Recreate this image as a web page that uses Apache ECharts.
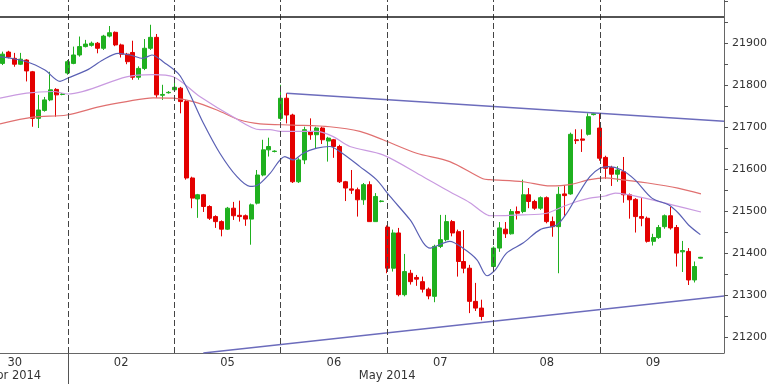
<!DOCTYPE html>
<html><head><meta charset="utf-8">
<script src="https://cdn.jsdelivr.net/npm/echarts@6/dist/echarts.min.js"></script>
<style>html,body{margin:0;padding:0;background:#fff}#c{width:768px;height:384px}</style>
</head><body><div id="c"></div>
<script>
// candle slot index (one per hourly bar), [open, close, low, high]
const candles = [
 // Apr 30 (partial)
 [21852,21874,21848,21880],[21879,21867,21864,21882],[21864,21850,21844,21877],[21850,21862,21848,21877],
 [21860,21834,21809,21862],[21832,21721,21701,21834],[21721,21741,21698,21777],[21740,21765,21737,21772],
 [21765,21789,21762,21832],[21790,21777,21725,21793],[21778,21779,21776,21781],
 // May 02
 [21829,21856,21825,21860],[21852,21872,21850,21892],[21872,21892,21868,21916],[21892,21898,21890,21908],
 [21895,21900,21892,21904],[21900,21888,21876,21903],[21888,21917,21884,21920],[21917,21925,21914,21941],
 [21926,21896,21893,21928],[21896,21874,21866,21899],[21874,21856,21850,21877],[21878,21819,21813,21906],
 [21819,21840,21813,21845],[21840,21888,21836,21910],[21888,21914,21884,21944],[21914,21777,21770,21922],
 [21776,21778,21765,21801],[21782,21783,21780,21786],
 // May 05
 [21789,21795,21785,21817],[21793,21761,21733,21796],[21761,21579,21575,21765],[21579,21531,21507,21582],
 [21529,21539,21484,21541],[21539,21511,21498,21541],[21511,21483,21479,21514],[21487,21475,21460,21490],
 [21475,21457,21440,21478],[21457,21507,21455,21510],[21507,21489,21479,21522],[21490,21487,21475,21525],
 [21489,21481,21465,21492],[21481,21515,21420,21518],[21519,21586,21516,21598],[21586,21646,21583,21670],
 [21646,21654,21630,21675],[21642,21643,21640,21645],
 // May 06
 [21721,21769,21715,21801],[21769,21729,21709,21781],[21729,21570,21567,21732],[21570,21622,21567,21626],
 [21622,21694,21612,21701],[21689,21682,21670,21721],[21682,21698,21650,21701],[21698,21670,21660,21701],
 [21667,21674,21618,21677],[21670,21654,21627,21672],[21654,21570,21567,21658],[21570,21555,21524,21572],
 [21553,21550,21541,21598],[21551,21527,21487,21556],[21527,21563,21515,21567],[21563,21475,21475,21571],
 [21475,21535,21475,21543],[21523,21524,21521,21526],
 // May 07
 [21462,21364,21352,21466],[21364,21448,21356,21456],[21448,21301,21297,21460],[21301,21356,21297,21398],
 [21352,21332,21325,21360],[21342,21338,21322,21348],[21332,21314,21306,21344],[21314,21298,21290,21318],
 [21297,21416,21283,21420],[21416,21432,21412,21491],[21432,21475,21428,21491],[21475,21448,21440,21479],
 [21451,21380,21344,21456],[21380,21364,21352,21455],[21364,21285,21257,21372],[21285,21269,21262,21329],
 [21269,21249,21240,21289],null,
 // May 08
 [21368,21412,21364,21416],[21412,21460,21403,21474],[21457,21446,21436,21474],[21446,21499,21444,21505],
 [21499,21495,21480,21511],[21499,21539,21495,21575],[21539,21523,21507,21555],[21523,21507,21503,21527],
 [21507,21532,21503,21535],[21532,21475,21471,21535],[21475,21463,21439,21487],[21463,21540,21352,21558],
 [21541,21537,21489,21562],[21541,21683,21539,21687],[21670,21668,21660,21695],[21672,21669,21641,21695],
 [21683,21725,21680,21733],[21730,21732,21728,21734],
 // May 09
 [21698,21626,21620,21733],[21628,21602,21577,21632],[21604,21588,21560,21608],[21588,21598,21570,21607],
 [21594,21539,21520,21629],[21539,21527,21482,21542],[21528,21487,21449,21531],[21487,21483,21464,21531],
 [21483,21428,21425,21487],[21428,21437,21418,21446],[21437,21461,21434,21467],[21463,21489,21458,21492],
 [21489,21460,21456,21510],[21461,21400,21368,21467],[21403,21406,21355,21429],[21404,21336,21324,21412],
 [21336,21368,21330,21380],[21388,21390,21387,21391]
];

// moving averages: [slot, value]
const maFast = [[-0.5,21868],[4.0,21856],[7.1,21836],[9.65,21809],[11.0,21817],[14.2,21836],[16.9,21860],
 [19.5,21876],[21.5,21872],[23.7,21864],[25.2,21872],[27.1,21856],[30.0,21822],[33.9,21710],[36.7,21638],
 [39.6,21582],[41.8,21559],[43.2,21563],[45.2,21590],[47.7,21630],[49.1,21622],[50.8,21638],[53.1,21650],
 [55.3,21654],[57.0,21642],[60.4,21606],[63.2,21575],[65.5,21535],[68.9,21479],[72.3,21412],[75.6,21428],
 [77.8,21412],[80.2,21384],[81.9,21346],[83.3,21360],[85.2,21400],[88.0,21424],[90.9,21456],[93.7,21467],
 [95.4,21495],[97.1,21535],[99.3,21582],[101.0,21602],[102.4,21606],[104.7,21598],[106.9,21575],
 [109.8,21531],[112.6,21515],[114.3,21495],[116.0,21467],[118.0,21444]];
const maMid = [[-0.5,21769],[4.0,21781],[8.5,21785],[11.0,21779],[20.9,21820],[25.4,21825],[28.8,21820],
 [33.3,21773],[38.9,21725],[43.5,21694],[45.2,21694],[46.9,21690],[53.1,21690],[55.8,21678],[58.7,21654],
 [64.3,21634],[71.1,21582],[75.6,21546],[79.0,21520],[81.3,21496],[82.4,21489],[88.0,21491],[92.0,21495],
 [94.8,21511],[97.1,21523],[99.3,21531],[101.9,21536],[103.6,21543],[108.6,21531],[113.2,21515],[118.1,21498]];
const maSlow = [[-0.5,21708],[5.1,21724],[10.8,21729],[16.4,21749],[20.9,21761],[25.4,21770],[28.8,21769],
 [32.2,21761],[36.2,21741],[40.1,21717],[43.5,21708],[49.1,21705],[55.3,21701],[60.4,21690],[64.3,21670],
 [70.0,21638],[75.6,21618],[81.2,21577],[82.4,21575],[88.0,21570],[92.6,21560],[95.9,21563],[99.3,21575],
 [101.9,21579],[103.6,21577],[109.1,21567],[114.2,21555],[118.1,21541]];

// trend lines and resistance level
const upperTrend = [[48,21781],[122,21714]];
const lowerTrend = [[33.9,21162],[122,21298]];
const topLevel = 21963;

const daySeparators = [11,29,47,65,83,101];
const monthBoundary = [11];
const dayLabelPos = [2,20,38,56,74,92,110];
const dayLabels = ['30','02','05','06','07','08','09'];
const monthLabelPos = [2,65];
const monthLabels = ['Apr 2014','May 2014'];
const yTickLabels = [21200,21300,21400,21500,21600,21700,21800,21900];
const yTicks = [21200,21250,21300,21350,21400,21450,21500,21550,21600,21650,21700,21750,21800,21850,21900,21950,22000];

const candleData = [];
candles.forEach((c,i)=>{ if(c) candleData.push([i,c[0],c[1],c[2],c[3]]); });

const labelPos = Array.from(new Set(dayLabelPos.concat(monthLabelPos))).sort((a,b)=>a-b);
function xFmt(v){
  const di = dayLabelPos.indexOf(v), mi = monthLabelPos.indexOf(v);
  const d = di>=0 ? dayLabels[di] : '';
  const m = mi>=0 ? monthLabels[mi] : '';
  return m ? d + '\n' + m : d;
}

const chart = echarts.init(document.getElementById('c'), null, {renderer:'canvas'});
const font = 'DejaVu Sans';
chart.setOption({
  animation:false,
  backgroundColor:'#fff',
  grid:{left:0,right:44,top:0,bottom:31,containLabel:false,outerBoundsMode:'none'},
  xAxis:{type:'value',min:-0.5,max:122,
    axisLine:{show:true,onZero:false,lineStyle:{color:'#666',width:1}},
    splitLine:{show:false},
    axisTick:{show:true,customValues:monthBoundary,length:31,lineStyle:{color:'#555'}},
    axisLabel:{show:true,customValues:labelPos,formatter:xFmt,margin:4,color:'#333',
      fontFamily:font,fontSize:11.5,lineHeight:13}},
  yAxis:{type:'value',position:'right',min:21162,max:22003,
    axisLine:{show:true,onZero:false,lineStyle:{color:'#666',width:1}},
    splitLine:{show:false},
    axisTick:{show:true,customValues:yTicks,length:4,inside:false,lineStyle:{color:'#555'}},
    axisLabel:{show:true,customValues:yTickLabels,formatter:v=>String(v),margin:8,color:'#333',fontFamily:font,fontSize:11}},
  series:[
    {type:'candlestick',data:candleData,barWidth:4.5,
     itemStyle:{color:'#1fb01f',color0:'#e30000',borderColor:'#1fb01f',borderColor0:'#e30000',borderWidth:1},
     markLine:{silent:true,symbol:['none','none'],label:{show:false},
       lineStyle:{color:'#444',type:[6,3],width:1},
       data:daySeparators.map(v=>({xAxis:v})).concat([{yAxis:topLevel,lineStyle:{color:'#1a1a1a',type:'solid',width:1.5}}])}},
    {type:'line',data:maSlow,showSymbol:false,smooth:0.3,lineStyle:{color:'#e07070',width:1.2},z:3},
    {type:'line',data:maMid,showSymbol:false,smooth:0.3,lineStyle:{color:'#c99ae0',width:1.2},z:3},
    {type:'line',data:maFast,showSymbol:false,smooth:0.3,lineStyle:{color:'#5a60b4',width:1.2},z:3},
    {type:'line',data:upperTrend,showSymbol:false,lineStyle:{color:'#6c6cbc',width:1.5},z:4},
    {type:'line',data:lowerTrend,showSymbol:false,lineStyle:{color:'#6c6cbc',width:1.5},z:4}
  ]
});
</script></body></html>
